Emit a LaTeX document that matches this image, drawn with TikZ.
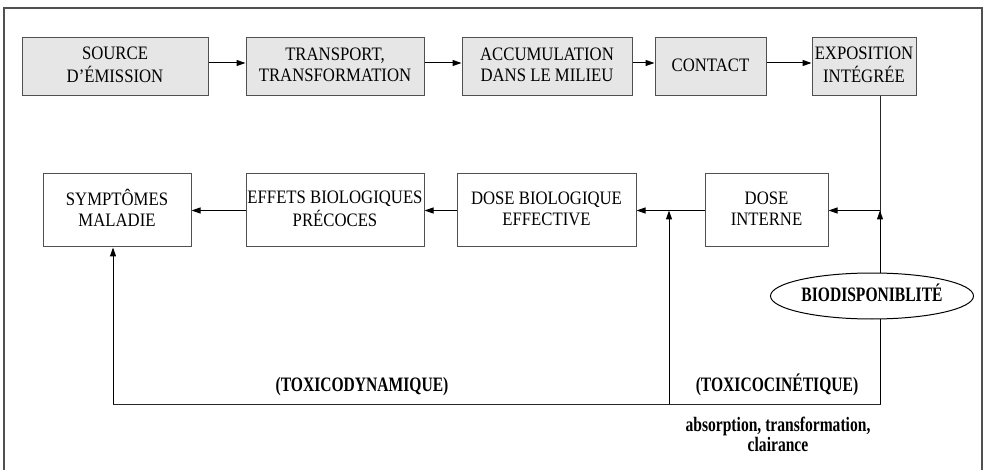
\documentclass[tikz,border=0pt]{standalone}
\usepackage{fontspec}
\usepackage{graphicx}
\setmainfont{Liberation Serif}
\usetikzlibrary{arrows.meta,shapes.geometric}
\definecolor{boxgray}{HTML}{E6E6E6}
\definecolor{edgegray}{HTML}{505050}
% condensed multi-line text blocks
\newcommand\boxtext[1]{\scalebox{0.88}[1]{\fontsize{19}{21}\selectfont\begin{tabular}{@{}c@{}}#1\end{tabular}}}
\newcommand\tagtext[1]{\scalebox{0.76}[1]{\fontsize{20.5}{20}\selectfont\bfseries\begin{tabular}{@{}c@{}}#1\end{tabular}}}
\tikzset{
  box/.style={draw=edgegray, line width=1pt, rectangle, inner sep=0pt, align=center},
  topbox/.style={box, fill=boxgray, minimum height=58pt},
  lowbox/.style={box, fill=white, minimum height=73pt},
  conn/.style={draw=black, line width=1pt, -{Triangle[length=9pt,width=6pt]}},
  line/.style={draw=black!85, line width=1pt},
  tag/.style={inner sep=0pt, align=center}
}
\begin{document}
\begin{tikzpicture}[x=1pt,y=-1pt]
\useasboundingbox (0,0) rectangle (987,470);
% outer frame, open at the bottom
\draw[edgegray, line width=1.2pt] (4,475) -- (4,8) -- (982,8) -- (982,475);

% exposure chain
\node[topbox, minimum width=186pt] (src) at (115,67) {\boxtext{SOURCE\\D’ÉMISSION}};
\node[topbox, minimum width=178pt] (trans) at (335,67) {\boxtext{TRANSPORT,\\TRANSFORMATION}};
\node[topbox, minimum width=170pt] (accu) at (547,67) {\boxtext{ACCUMULATION\\DANS LE MILIEU}};
\node[topbox, minimum width=111pt] (cont) at (710.5,67) {\boxtext{CONTACT}};
\node[topbox, minimum width=104pt] (expo) at (864,67) {\boxtext{EXPOSITION\\INTÉGRÉE}};

\draw[conn] ([yshift=4pt]src.east) -- ([yshift=4pt]trans.west);
\draw[conn] ([yshift=4pt]trans.east) -- ([yshift=4pt]accu.west);
\draw[conn] ([yshift=4pt]accu.east) -- ([yshift=4pt]cont.west);
\draw[conn] ([yshift=4pt]cont.east) -- ([yshift=4pt]expo.west);

% effect chain
\node[lowbox, minimum width=148pt] (sympt) at (117,210.5) {\boxtext{SYMPTÔMES\\MALADIE}};
\node[lowbox, minimum width=178pt] (eff) at (335,210.5) {\boxtext{EFFETS BIOLOGIQUES\\PRÉCOCES}};
\node[lowbox, minimum width=179pt] (dbio) at (546.5,210.5) {\boxtext{DOSE BIOLOGIQUE\\EFFECTIVE}};
\node[lowbox, minimum width=123pt] (dint) at (766.5,210.5) {\boxtext{DOSE\\INTERNE}};

% junctions of the feedback lines
\coordinate (jexpo) at (880,96);
\coordinate (jint) at (880,210.5);
\coordinate (jbio) at (669,210.5);
\coordinate (br) at (880,404);
\coordinate (bm) at (669,404);
\coordinate (bl) at (113,404);

\draw[conn] (eff.west) -- (sympt.east);
\draw[conn] (dbio.west) -- (eff.east);
\draw[conn] (dint.west) -- (dbio.east);
\draw[conn] (jint) -- (dint.east);

\draw[line] (jexpo) -- (br) -- (bl);
\draw[conn] (br) -- (jint);
\draw[conn] (bm) -- (jbio);
\draw[conn] (bl) -- (bl |- sympt.south);

% labels
\node[draw=black, line width=1pt, fill=white, ellipse, minimum width=203pt, minimum height=46pt,
  inner sep=0pt] (bio) at (872,296) {\tagtext{BIODISPONIBLITÉ}};
\node[tag] (tdyn) at (362,387) {\tagtext{(TOXICODYNAMIQUE)}};
\node[tag] (tcin) at (777,386) {\tagtext{(TOXICOCINÉTIQUE)}};
\node[tag] (abs) at (778,437) {\tagtext{absorption, transformation,\\clairance}};
\end{tikzpicture}
\end{document}
